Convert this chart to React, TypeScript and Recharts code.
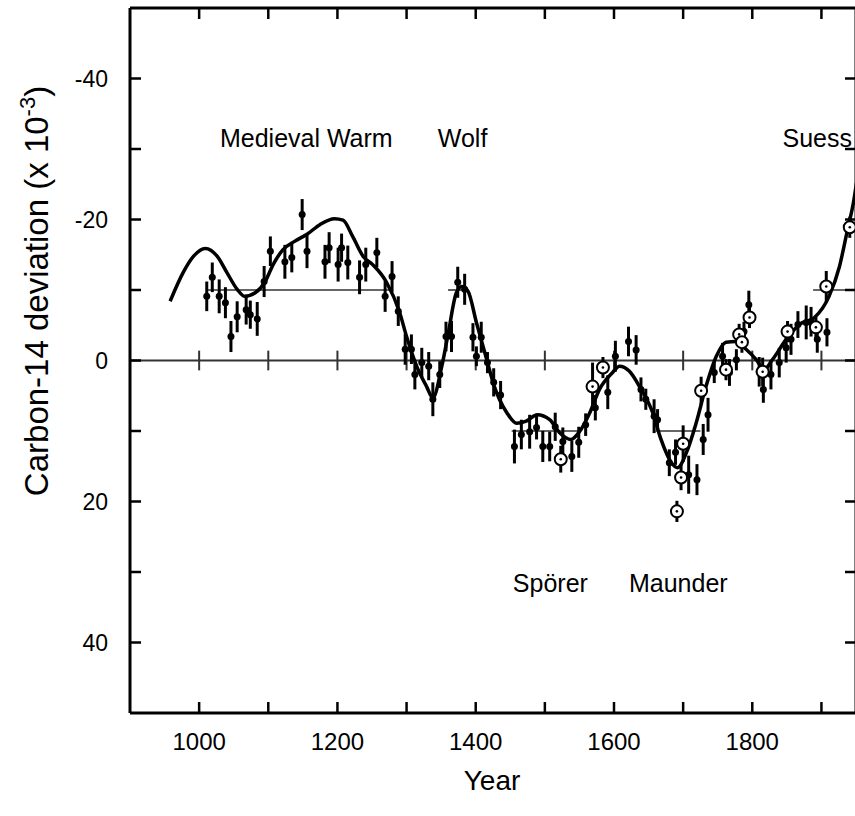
import {
  ComposedChart,
  ErrorBar,
  Label,
  Line,
  ReferenceDot,
  ReferenceLine,
  Scatter,
  XAxis,
  YAxis,
} from "recharts";

const FONT = '"Liberation Sans", Arial, Helvetica, sans-serif';

// smooth fit through the record
const curveYears = [
  958, 977, 992, 1009, 1026, 1040, 1055, 1066, 1081, 1095, 1107, 1121, 1138, 1156, 1175, 1196,
  1208, 1222, 1237, 1251, 1271, 1290, 1300, 1315, 1329, 1338, 1351, 1360, 1372, 1380, 1389, 1401,
  1416, 1427, 1445, 1459, 1473, 1489, 1507, 1521, 1538, 1550, 1565, 1579, 1598, 1608, 1622, 1637,
  1656, 1668, 1683, 1692, 1705, 1719, 1733, 1748, 1762, 1777, 1791, 1806, 1817, 1829, 1849, 1868,
  1890, 1911, 1926, 1937, 1947, 1952,
];
const curveValues = [
  -8.4, -12.5, -14.8, -15.9, -14.8, -12.5, -10.1, -9.1, -9.6, -11.1, -13.6, -15.7, -16.9, -17.9,
  -19.3, -20.1, -19.9, -17.6, -14.8, -13.6, -11.1, -6.8, -3.4, 0.9, 3.7, 5.3, 0.8, -3.7, -9.6,
  -10.5, -9.8, -5.4, -0.1, 3.7, 7.4, 8.9, 8.6, 7.7, 8.4, 10.2, 11.2, 10.1, 7.4, 4.1, 1.7, 0.8, 1.5,
  3.7, 7.4, 11.2, 14.5, 15.2, 13.0, 8.8, 3.7, -0.6, -2.6, -2.7, -1.6, -0.1, 1.3, -0.1, -3.0, -5.1,
  -6.1, -9.1, -13.3, -18.2, -22.8, -26,
];

// tree-ring measurements (filled dots)
const ringYears = [
  1011, 1019, 1029, 1038, 1046, 1055, 1068, 1074, 1084, 1094, 1103, 1124, 1134, 1149, 1156, 1182,
  1188, 1201, 1206, 1215, 1232, 1241, 1257, 1269, 1279, 1288, 1298, 1307, 1312, 1322, 1332, 1338,
  1348, 1357, 1365, 1374, 1384, 1396, 1401, 1408, 1417, 1426, 1436, 1456, 1466, 1478, 1488, 1497,
  1507, 1515, 1526, 1539, 1549, 1559, 1573, 1591, 1602, 1621, 1632, 1639, 1646, 1658, 1663, 1680,
  1689, 1708, 1720, 1729, 1736, 1745, 1757, 1767, 1777, 1788, 1795, 1810, 1816, 1827, 1839, 1849,
  1856, 1866, 1878, 1885, 1894, 1908,
];
const ringValues = [
  -9.1, -11.8, -9.1, -8.2, -3.4, -6.2, -7.2, -6.5, -5.9, -11.2, -15.5, -14.0, -14.6, -20.7, -15.5,
  -14.0, -16.0, -13.6, -16.0, -13.9, -11.8, -13.6, -15.3, -9.1, -11.9, -7.0, -1.6, -1.6, 2.0, 0.3,
  0.8, 5.5, 2.0, -3.4, -3.4, -11.1, -10.1, -3.3, -0.6, -3.3, 0.3, 3.1, 4.9, 12.2, 10.5, 10.1, 9.5,
  12.2, 12.2, 9.4, 11.5, 13.6, 11.6, 9.1, 6.7, 4.5, -0.6, -2.7, -1.5, 4.1, 5.5, 7.9, 8.4, 14.5,
  13.0, 16.2, 16.9, 11.2, 7.7, 1.7, -0.6, 1.7, -0.1, -4.1, -7.9, 1.6, 4.1, 2.0, 0.3, -1.8, -3.0,
  -5.1, -5.4, -5.5, -3.0, -4.0,
];
const ringErrors = [
  2.1, 2.1, 2.4, 2.2, 2.2, 2.2, 2.1, 2.0, 2.4, 2.2, 2.1, 2.4, 2.1, 2.2, 2.4, 2.4, 2.2, 2.4, 2.0,
  2.4, 2.4, 2.4, 2.1, 2.2, 2.2, 2.1, 2.2, 2.1, 2.1, 2.1, 2.0, 2.4, 1.9, 2.1, 2.2, 2.2, 2.2, 2.0,
  1.4, 2.2, 1.5, 2.0, 2.0, 2.4, 2.1, 2.4, 1.7, 2.2, 2.1, 2.0, 2.0, 2.2, 2.2, 1.6, 1.8, 2.4, 2.2,
  2.1, 2.1, 1.7, 1.5, 2.4, 1.5, 1.9, 1.8, 2.7, 2.2, 2.2, 2.4, 1.5, 1.9, 1.9, 1.5, 1.4, 2.0, 2.1,
  1.9, 2.1, 2.1, 2.1, 2.2, 1.9, 2.4, 2.1, 1.9, 2.0,
];

// second series (open circles)
const openYears = [1523, 1569, 1584, 1691, 1697, 1700, 1726, 1762, 1781, 1785, 1796, 1815, 1851, 1892, 1907, 1941];
const openValues = [14.0, 3.7, 1.0, 21.4, 16.6, 11.8, 4.3, 1.3, -3.7, -2.6, -6.1, 1.6, -4.1, -4.7, -10.5, -18.9];
const openErrors = [1.9, 3.4, 1.5, 1.5, 1.8, 2.6, 2.0, 1.5, 1.5, 1.5, 1.5, 2.0, 1.5, 1.5, 2.2, 1.5];

// average level of each episode
const levelStart = [1010, 1360, 1452, 1660, 1888];
const levelEnd = [1275, 1390, 1552, 1725, 1950];
const levelValue = [-10, -10, 10, 10, -10];

const eraNames = ["Medieval Warm", "Wolf", "Spörer", "Maunder", "Suess"];
const eraYears = [1155, 1381, 1508, 1693, 1894];
const eraValues = [-31.6, -31.6, 31.6, 31.6, -31.6];

const centuryTicks = [1000, 1100, 1200, 1300, 1400, 1500, 1600, 1700, 1800, 1900];
const yearLabels = [1000, 1200, 1400, 1600, 1800];
const valueTicks = [-40, -30, -20, -10, 0, 10, 20, 30, 40];
const valueLabels = [-40, -20, 0, 20, 40];

const curve = curveYears.map((year, i) => ({ year, v: curveValues[i] }));
const rings = ringYears.map((year, i) => ({ year, v: ringValues[i], e: ringErrors[i] }));
const opens = openYears.map((year, i) => ({ year, v: openValues[i], e: openErrors[i] }));

const TICK = 11;

function BottomTick({ x, y, payload }: any) {
  return (
    <g>
      <line x1={x} y1={y} x2={x} y2={y - TICK} stroke="#000" strokeWidth={2.5} />
      {yearLabels.includes(payload.value) && (
        <text x={x} y={y + 37} textAnchor="middle" fontSize={24} fontFamily={FONT} fill="#000">
          {payload.value}
        </text>
      )}
    </g>
  );
}

function TopTick({ x, y }: any) {
  return <line x1={x} y1={y} x2={x} y2={y + TICK} stroke="#000" strokeWidth={2.5} />;
}

function LeftTick({ x, y, payload }: any) {
  return (
    <g>
      <line x1={x} y1={y} x2={x + TICK} y2={y} stroke="#000" strokeWidth={2.5} />
      {valueLabels.includes(payload.value) && (
        <text x={x - 22} y={y + 8} textAnchor="end" fontSize={23} fontFamily={FONT} fill="#000">
          {payload.value}
        </text>
      )}
    </g>
  );
}

function RightTick({ x, y }: any) {
  return <line x1={x} y1={y} x2={x - TICK} y2={y} stroke="#000" strokeWidth={2.5} />;
}

function Dot({ cx, cy }: any) {
  return <circle cx={cx} cy={cy} r={3.5} fill="#000" />;
}

function Ring({ cx, cy }: any) {
  return (
    <g>
      <circle cx={cx} cy={cy} r={6} fill="#fff" stroke="#000" strokeWidth={2} />
      <circle cx={cx} cy={cy} r={1.3} fill="#000" />
    </g>
  );
}

function YTitle() {
  return (
    <text
      x={36}
      y={291}
      transform="rotate(-90 36 291)"
      textAnchor="middle"
      dy="0.35em"
      fontSize={33}
      fontFamily={FONT}
      fill="#000"
    >
      Carbon-14 deviation (x 10
      <tspan dy={-13} fontSize={22}>
        -3
      </tspan>
      <tspan dy={13}>)</tspan>
    </text>
  );
}

function XTitle() {
  return (
    <text x={492} y={790} textAnchor="middle" fontSize={28} fontFamily={FONT} fill="#000">
      Year
    </text>
  );
}

export default function App() {
  return (
    <div
      style={{
        position: "absolute",
        left: 0,
        top: 0,
        width: 855,
        height: 816,
        overflow: "hidden",
        background: "#fff",
      }}
    >
      <ComposedChart width={867} height={816} margin={{ top: 7, right: 10, bottom: 0, left: 0 }}>
        <XAxis
          dataKey="year"
          type="number"
          domain={[900, 1950]}
          allowDataOverflow
          ticks={centuryTicks}
          interval={0}
          tickSize={0}
          tickMargin={0}
          tick={BottomTick}
          tickLine={false}
          height={103}
          axisLine={{ stroke: "#000", strokeWidth: 3 }}
        >
          <Label content={XTitle} />
        </XAxis>
        <XAxis
          xAxisId="top"
          orientation="top"
          dataKey="year"
          type="number"
          domain={[900, 1950]}
          allowDataOverflow
          ticks={centuryTicks}
          interval={0}
          tickSize={0}
          tickMargin={0}
          tick={TopTick}
          tickLine={false}
          height={1}
          axisLine={{ stroke: "#000", strokeWidth: 3 }}
        />
        <YAxis
          dataKey="v"
          type="number"
          domain={[-50, 50]}
          reversed
          ticks={valueTicks}
          interval={0}
          tickSize={0}
          tickMargin={0}
          tick={LeftTick}
          tickLine={false}
          width={130}
          axisLine={{ stroke: "#000", strokeWidth: 3 }}
        >
          <Label content={YTitle} />
        </YAxis>
        <YAxis
          yAxisId="right"
          orientation="right"
          dataKey="v"
          type="number"
          domain={[-50, 50]}
          reversed
          ticks={valueTicks}
          interval={0}
          tickSize={0}
          tickMargin={0}
          tick={RightTick}
          tickLine={false}
          width={1}
          axisLine={{ stroke: "#000", strokeWidth: 3 }}
        />

        <ReferenceLine y={0} stroke="#333" strokeWidth={2} />
        {centuryTicks.map((yr) => (
          <ReferenceLine
            key={`z${yr}`}
            segment={[
              { x: yr, y: -1.4 },
              { x: yr, y: 1.4 },
            ]}
            stroke="#333"
            strokeWidth={2}
          />
        ))}
        {levelStart.map((s, i) => (
          <ReferenceLine
            key={`l${i}`}
            segment={[
              { x: s, y: levelValue[i] },
              { x: levelEnd[i], y: levelValue[i] },
            ]}
            stroke="#333"
            strokeWidth={1.6}
          />
        ))}
        {eraNames.map((name, i) => (
          <ReferenceDot
            key={name}
            x={eraYears[i]}
            y={eraValues[i]}
            r={1}
            fill="none"
            stroke="none"
            label={{ value: name, position: "center", fontSize: 25, fill: "#000", fontFamily: FONT }}
          />
        ))}

        {/* the fitted curve sits on the top/right axes, which share the same domains */}
        <Line
          data={curve}
          dataKey="v"
          xAxisId="top"
          yAxisId="right"
          type="monotone"
          stroke="#000"
          strokeWidth={3.5}
          dot={false}
          isAnimationActive={false}
        />
        <Scatter data={rings} dataKey="v" shape={Dot} isAnimationActive={false}>
          <ErrorBar dataKey="e" direction="y" width={0} stroke="#000" strokeWidth={3} isAnimationActive={false} />
        </Scatter>
        <Scatter data={opens} dataKey="v" shape={Ring} isAnimationActive={false}>
          <ErrorBar dataKey="e" direction="y" width={0} stroke="#000" strokeWidth={3} isAnimationActive={false} />
        </Scatter>
      </ComposedChart>
    </div>
  );
}
